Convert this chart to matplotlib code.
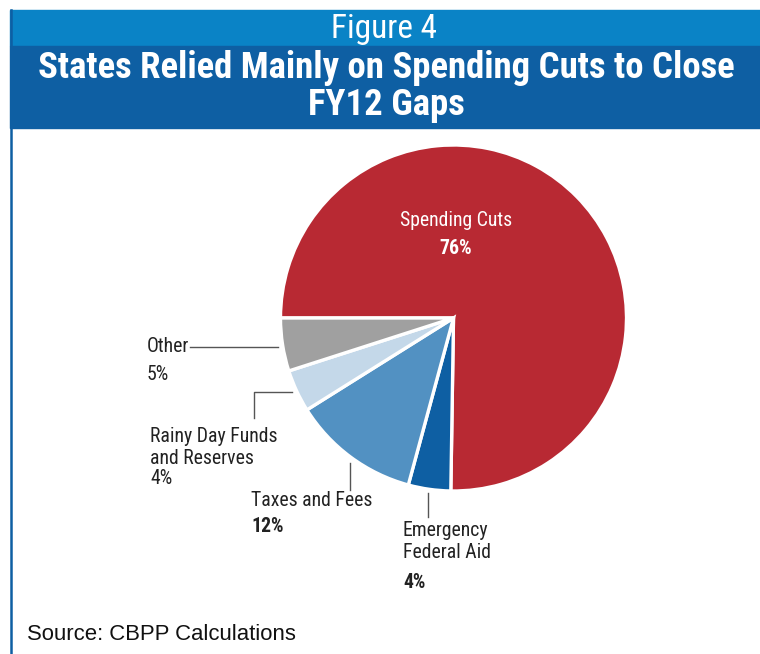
import matplotlib
matplotlib.use("Agg")
import matplotlib.pyplot as plt
from matplotlib.patches import Rectangle
from matplotlib import font_manager as fm

# ---- data ----
categories = ["Spending Cuts", "Emergency\nFederal Aid", "Taxes and Fees",
              "Rainy Day Funds\nand Reserves", "Other"]
values = [76, 4, 12, 4, 5]
pct_labels = ["76%", "4%", "12%", "4%", "5%"]
colors = ["#b82933", "#0e5fa3", "#5291c2", "#c4d8e9", "#a0a0a0"]

# ---- choose a condensed font if available ----
names = {(f.name, f.stretch) for f in fm.fontManager.ttflist}
allnames = {f.name for f in fm.fontManager.ttflist}
FONT = dict(family=["DejaVu Sans"])
for cand in ["Roboto Condensed", "Liberation Sans Narrow", "Open Sans Condensed",
             "Noto Sans Condensed", "DejaVu Sans Condensed"]:
    if cand in allnames:
        FONT = dict(family=[cand, "DejaVu Sans"])
        break
else:
    cond = [n for (n, s) in names if s in ("condensed", "semi-condensed", 75, 87)]
    if "DejaVu Sans" in cond:
        FONT = dict(family=["DejaVu Sans"], stretch="condensed")
    elif "Roboto" in allnames:
        FONT = dict(family=["Roboto", "DejaVu Sans"])

W, H = 760, 654
fig = plt.figure(figsize=(W / 100, H / 100), dpi=100)
ax = fig.add_axes([0, 0, 1, 1])
renderer = fig.canvas.get_renderer()

def Y(p):
    return H - p

def fit(txt, target):
    """Scale a text's font size so its rendered width matches target pixels."""
    for _ in range(3):
        w = txt.get_window_extent(renderer).width
        txt.set_fontsize(txt.get_fontsize() * target / w)
    return txt.get_fontsize()

# header bands and border
ax.add_patch(Rectangle((10, Y(46)), W - 10, 36, color="#0a83c6", zorder=1))
ax.add_patch(Rectangle((10, Y(128)), W - 10, 82, color="#0e5fa3", zorder=1))
ax.plot([11, 11], [Y(10), 0], color="#0e5fa3", lw=1.8, zorder=2)

t = ax.text(384, Y(29), "Figure 4", ha="center", va="center", color="white",
            fontsize=20, **FONT)
fit(t, 106)
t1 = ax.text(386, Y(68), "States Relied Mainly on Spending Cuts to Close", ha="center",
             va="center", color="white", fontsize=22, fontweight="bold", **FONT)
tfs = fit(t1, 698)
ax.text(386, Y(105), "FY12 Gaps", ha="center", va="center", color="white",
        fontsize=tfs, fontweight="bold", **FONT)

# pie
cx, cy, r = 453.5, Y(318), 173
ax.pie(values, colors=colors, startangle=180, counterclock=False,
       center=(cx, cy), radius=r, normalize=True,
       wedgeprops=dict(edgecolor="white", linewidth=2.4), frame=False)
ax.set_xlim(0, W)
ax.set_ylim(0, H)
ax.set_aspect("equal")
ax.axis("off")

probe = ax.text(0, 0, "Rainy Day Funds", fontsize=14, **FONT)
fs = fit(probe, 127)
probe.remove()

tc = "#222222"
lc = "#555555"
# Spending cuts (inside)
ax.text(456, Y(220), categories[0], ha="center", va="center", color="white",
        fontsize=fs, **FONT)
ax.text(456, Y(248), pct_labels[0], ha="center", va="center", color="white",
        fontsize=fs, fontweight="bold", **FONT)

# Other
ax.text(147, Y(347), categories[4], ha="left", va="center", color=tc,
        fontsize=fs, **FONT)
ax.text(147, Y(374), pct_labels[4], ha="left", va="center", color=tc,
        fontsize=fs, **FONT)
ax.plot([190, 278], [Y(347), Y(347)], color=lc, lw=1)

# Rainy day
ax.text(150, Y(448), categories[3], ha="left", va="center", color=tc,
        fontsize=fs, linespacing=1.2, **FONT)
ax.text(150, Y(479), pct_labels[3], ha="left", va="center", color=tc,
        fontsize=fs, **FONT)
ax.plot([254, 254, 292], [Y(418), Y(392), Y(392)], color=lc, lw=1)

# Taxes and fees
ax.text(251, Y(500), categories[2], ha="left", va="center", color=tc,
        fontsize=fs, **FONT)
ax.text(251, Y(527), pct_labels[2], ha="left", va="center", color=tc,
        fontsize=fs, fontweight="bold", **FONT)
ax.plot([350, 350], [Y(463), Y(490)], color=lc, lw=1)

# Emergency federal aid
ax.text(403, Y(542), categories[1], ha="left", va="center", color=tc,
        fontsize=fs, linespacing=1.2, **FONT)
ax.text(403, Y(582), pct_labels[1], ha="left", va="center", color=tc,
        fontsize=fs, fontweight="bold", **FONT)
ax.plot([428, 428], [Y(493), Y(517)], color=lc, lw=1)

# source
src = ax.text(27, Y(634), "Source: CBPP Calculations", ha="left", va="center",
              color="#111111", fontsize=14, family=["Liberation Sans", "DejaVu Sans"])
fit(src, 268)

fig.savefig("out.png", dpi=100)
